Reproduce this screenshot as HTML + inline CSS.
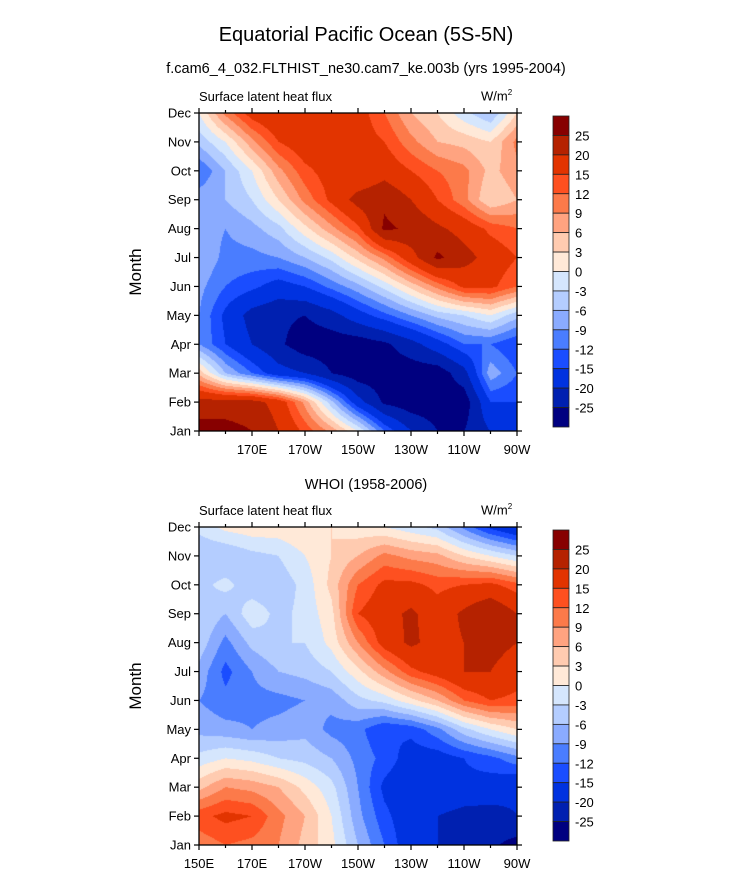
<!DOCTYPE html>
<html><head><meta charset="utf-8">
<style>
body{margin:0;background:#fff;font-family:"Liberation Sans",Arial,sans-serif;}
#wrap{position:relative;width:732px;height:882px;overflow:hidden;}
.t{position:absolute;white-space:nowrap;color:#000;}
canvas{position:absolute;}
svg{position:absolute;left:0;top:0;}
</style></head><body>
<div id="wrap">
<div class="t" style="left:0;width:732px;text-align:center;top:24px;font-size:20px;">Equatorial Pacific Ocean (5S-5N)</div>
<div class="t" style="left:0;width:732px;text-align:center;top:61px;font-size:14.5px;">f.cam6_4_032.FLTHIST_ne30.cam7_ke.003b (yrs 1995-2004)</div>
<div class="t" style="left:199px;top:89px;font-size:13px;">Surface latent heat flux</div>
<div class="t" style="left:481px;top:88px;font-size:13px;">W/m<sup style="font-size:8px">2</sup></div>
<div class="t" style="left:0;width:732px;text-align:center;top:477px;font-size:14.5px;">WHOI (1958-2006)</div>
<div class="t" style="left:199px;top:503px;font-size:13px;">Surface latent heat flux</div>
<div class="t" style="left:481px;top:502px;font-size:13px;">W/m<sup style="font-size:8px">2</sup></div>
<div class="t" style="left:108px;top:262px;font-size:17px;transform:rotate(-90deg);width:56px;text-align:center;">Month</div>
<div class="t" style="left:108px;top:676px;font-size:17px;transform:rotate(-90deg);width:56px;text-align:center;">Month</div>
<canvas id="c1" width="318" height="318" style="left:199px;top:113px"></canvas>
<canvas id="c2" width="318" height="318" style="left:199px;top:527px"></canvas>
<svg id="ov" width="732" height="882"></svg>
</div>
<script>
const months=["Jan","Feb","Mar","Apr","May","Jun","Jul","Aug","Sep","Oct","Nov","Dec"];
const lons=[150,160,170,180,190,200,210,220,230,240,250,260,270];
const lonLabels=[[150,"150E"],[170,"170E"],[190,"170W"],[210,"150W"],[230,"130W"],[250,"110W"],[270,"90W"]];
const levels=[-25,-20,-15,-12,-9,-6,-3,0,3,6,9,12,15,20,25];
const levelColors=["#000080","#0020b0","#0032e0","#1a4dff","#4a7dff","#8aabff","#b4cdff","#d5e6fd","#ffe9d8","#ffcbb0","#ffa380","#fc7a4a","#fe5020","#e23400","#b52200","#870000"];
const model=[
[27,27,25,20,14,8,0,-12,-20,-25,-25,-20,-15],
[22,22,22,18,8,-5,-18,-26,-28,-28,-28,-15,-15],
[5,-6,-12,-18,-20,-25,-28,-28,-28,-28,-22,-7,-12],
[-9,-15,-20,-24,-28,-28,-28,-26,-22,-17,-12,-12,-15],
[-9,-16,-22,-24,-25,-22,-17,-13,-9,-5,-3,0,-5],
[-8,-12,-14,-17,-15,-11,-7,-2,4,10,16,16,12],
[-6,-10,-10,-9,-6,-2,4,10,18,26,22,18,15],
[-7,-9,-7,-4,2,8,14,26,24,21,18,14,12],
[-7,-6,-3,3,10,16,22,24,20,15,10,3,6],
[-12,-6,0,8,14,17,15,18,15,12,10,5,8],
[-5,0,8,15,18,17,17,15,10,6,5,3,10],
[0,10,17,20,17,18,17,12,6,3,-2,-6,3]];
const obs=[
[10,12,11,9,5,1,-6,-12,-18,-20,-22,-24,-27],
[14,16,15,10,6,0,-8,-14,-18,-20,-22,-22,-20],
[5,9,8,6,2,-2,-9,-16,-18,-15,-16,-17,-19],
[-2,0,-1,-3,-4,-6,-10,-13,-17,-17,-15,-13,-10],
[-7,-8,-9,-8,-7,-10,-11,-15,-14,-10,-4,0,3],
[-9,-11,-10,-10,-9,-8,-4,-2,2,6,12,15,14],
[-7,-13,-9,-6,-5,-3,2,8,14,17,20,20,17],
[-4,-10,-5,-3,-3,1,9,17,21,18,20,22,20],
[-3,-6,-1,-4,-2,2,15,18,21,17,21,25,20],
[-4,-2,-5,-5,-2,4,12,16,16,14,15,16,13],
[-6,-6,-4,-3,0,3,6,10,8,7,3,0,-3],
[-2,1,2,2,3,3,1,0,-2,-4,-10,-16,-20]];

const X0=199,W=318,H=318;
function xs(lon){return X0+(lon-150)/120*W;}
function ys(top,m){return top+H-m/11*H;}
function colorFor(v){let i=0;while(i<levels.length&&v>=levels[i])i++;return levelColors[i];}
function hex(c){return [parseInt(c.substr(1,2),16),parseInt(c.substr(3,2),16),parseInt(c.substr(5,2),16)];}
function draw(id,data){
 const cv=document.getElementById(id),ctx=cv.getContext('2d');
 const img=ctx.createImageData(W,H);
 for(let py=0;py<H;py++){
  const m=(H-py-0.5)/H*11;const r0=Math.min(10,Math.floor(m)),fy=m-r0;
  for(let px=0;px<W;px++){
   const l=(px+0.5)/W*12;const c0=Math.min(11,Math.floor(l)),fx=l-c0;
   const v=data[r0][c0]*(1-fx)*(1-fy)+data[r0][c0+1]*fx*(1-fy)+data[r0+1][c0]*(1-fx)*fy+data[r0+1][c0+1]*fx*fy;
   const rgb=hex(colorFor(v));const k=(py*W+px)*4;
   img.data[k]=rgb[0];img.data[k+1]=rgb[1];img.data[k+2]=rgb[2];img.data[k+3]=255;
  }}
 ctx.putImageData(img,0,0);
}
draw('c1',model);draw('c2',obs);

const NS='http://www.w3.org/2000/svg',ov=document.getElementById('ov');
function mk(tag,attrs,name){const e=document.createElementNS(NS,tag);for(const k in attrs)e.setAttribute(k,attrs[k]);
 
 
 ov.appendChild(e);return e;}
function axes(top,p,showFirst){
 mk('rect',{x:X0,y:top,width:W,height:H,fill:'none',stroke:'#000','stroke-width':1.3},p+'-frame');
 months.forEach((mo,i)=>{const y=ys(top,i);
  mk('line',{x1:X0-5,y1:y,x2:X0,y2:y,stroke:'#000','stroke-width':1.2},p+'-y-tick');
  mk('line',{x1:X0+W,y1:y,x2:X0+W+5,y2:y,stroke:'#000','stroke-width':1.2},p+'-y-tick-right');
  const t=mk('text',{x:X0-8,y:y+4.5,'text-anchor':'end','font-size':13,'font-family':'Liberation Sans, sans-serif'},p+'-month-label');t.textContent=mo;});
 lons.forEach(l=>{const x=xs(l),maj=(l-150)%20===0,len=maj?5:3;
  mk('line',{x1:x,y1:top+H,x2:x,y2:top+H+len,stroke:'#000','stroke-width':1.2},p+'-x-tick');
  mk('line',{x1:x,y1:top-len,x2:x,y2:top,stroke:'#000','stroke-width':1.2},p+'-x-tick-top');});
 lonLabels.forEach(([l,s])=>{if(l===150&&!showFirst)return;
  const t=mk('text',{x:xs(l),y:top+H+23,'text-anchor':'middle','font-size':13,'font-family':'Liberation Sans, sans-serif'},p+'-lon-label');t.textContent=s;});
}
axes(113,'panel1',false);axes(527,'panel2',true);
function colorbar(top,p){
 const bh=(H-7)/16,bt=top+3;
 levelColors.slice().reverse().forEach((c,i)=>{
  mk('rect',{x:553,y:bt+i*bh,width:16,height:bh,fill:c,stroke:'#222','stroke-width':0.8},p+'-colorbar-box');});
 levels.slice().reverse().forEach((v,i)=>{
  const t=mk('text',{x:575,y:bt+(i+1)*bh+5,'font-size':13,'font-family':'Liberation Sans, sans-serif'},p+'-colorbar-label');t.textContent=v;});
}
colorbar(113,'panel1');colorbar(527,'panel2');
</script>
</body></html>
